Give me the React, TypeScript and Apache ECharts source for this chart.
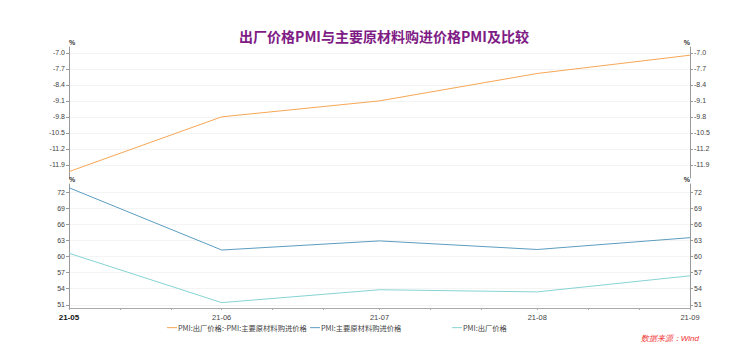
import React, { useEffect, useRef } from "react";
import * as echarts from "echarts";

const dates = ["2021-05-31", "2021-06-30", "2021-07-31", "2021-08-31", "2021-09-30"];
const diffValues = [-12.2, -9.8, -9.1, -7.9, -7.1];
const purchaseValues = [72.8, 61.2, 62.9, 61.3, 63.5];
const factoryValues = [60.6, 51.4, 53.8, 53.4, 56.4];
const topTicks = [-11.9, -11.2, -10.5, -9.8, -9.1, -8.4, -7.7, -7.0];
const bottomTicks = [51, 54, 57, 60, 63, 66, 69, 72];
const minorDays = ["2021-06-10", "2021-06-20", "2021-07-10", "2021-07-20", "2021-08-10", "2021-08-20", "2021-09-10", "2021-09-20"];
const seriesNames = ["PMI:出厂价格:-PMI:主要原材料购进价格", "PMI:主要原材料购进价格", "PMI:出厂价格"];

const ts = (d: string) => {
  const [y, m, day] = d.split("-").map(Number);
  return Date.UTC(y, m - 1, day);
};
const fmt = (v: number) => {
  const d = new Date(v);
  const yy = String(d.getUTCFullYear()).slice(2);
  const mm = String(d.getUTCMonth() + 1).padStart(2, "0");
  return yy + "-" + mm;
};

export default function App() {
  const ref = useRef<HTMLDivElement>(null);
  useEffect(() => {
    const chart = echarts.init(ref.current!, null, { renderer: "svg" });
    const xs = dates.map(ts);
    const xTickVals = [...xs, ...minorDays.map(ts)].sort((a, b) => a - b);
    const font = "Microsoft YaHei, Noto Sans CJK SC, sans-serif";
    const yCommon = (idx: number, pos: "left" | "right", ticks: number[], min: number, max: number, dec: number) => ({
      type: "value" as const,
      gridIndex: idx,
      position: pos,
      min,
      max,
      name: "%",
      nameLocation: "end" as const,
      nameGap: 1,
      nameTextStyle: { fontSize: 7, color: "#333", fontWeight: "bold" as const, align: pos === "left" ? "left" : "right" },
      axisLine: { show: true, lineStyle: { color: "#999", width: 1 } },
      axisTick: { show: true, length: 3, customValues: ticks, lineStyle: { color: "#999" } },
      axisLabel: {
        customValues: ticks,
        fontSize: 7,
        color: "#444",
        margin: 4,
        fontFamily: "Arial, sans-serif",
        formatter: (v: number) => v.toFixed(dec),
      },
      splitLine: { show: pos === "left", lineStyle: { color: "#f4f4f4", width: 1 } },
    });
    chart.setOption({
      animation: false,
      backgroundColor: "#fff",
      title: {
        text: "出厂价格PMI与主要原材料购进价格PMI及比较",
        left: 379,
        textAlign: "center",
        top: 24,
        textStyle: { fontSize: 14, fontWeight: "bold", color: "#7E1B84", fontFamily: font },
      },
      grid: [
        { left: 69, right: 47, top: 47, height: 131 },
        { left: 69, right: 47, top: 184, height: 124 },
      ],
      legend: seriesNames.map((n, i) => ({
        data: [n],
        left: [167, 310, 452][i],
        top: 324,
        padding: 0,
        itemWidth: 10,
        itemHeight: 8,
        itemGap: 0,
        icon: "path://M0,4L10,4L10,5L0,5Z",
        textStyle: { fontSize: 7.3, color: "#444", fontFamily: font, padding: [0, 0, 0, -4] },
      })),
      xAxis: [
        {
          type: "value",
          gridIndex: 0,
          min: xs[0],
          max: xs[xs.length - 1],
          show: false,
        },
        {
          type: "value",
          gridIndex: 1,
          min: xs[0],
          max: xs[xs.length - 1],
          axisLine: { show: true, lineStyle: { color: "#aaa" } },
          axisTick: { show: true, length: 2, customValues: xTickVals, lineStyle: { color: "#aaa" } },
          splitLine: { show: false },
          axisLabel: {
            customValues: xs,
            fontSize: 7.5,
            color: "#444",
            margin: 5,
            fontFamily: "Arial, sans-serif",
            formatter: (v: number) => (v === xs[0] ? "{b|" + fmt(v) + "}" : fmt(v)),
            rich: { b: { fontWeight: "bold", color: "#111", fontSize: 8, fontFamily: "Arial, sans-serif" } },
          },
        },
      ],
      yAxis: [
        yCommon(0, "left", topTicks, -12.48, -6.74, 1),
        yCommon(0, "right", topTicks, -12.48, -6.74, 1),
        yCommon(1, "left", bottomTicks, 50.4, 73.5, 0),
        yCommon(1, "right", bottomTicks, 50.4, 73.5, 0),
      ],
      series: [
        {
          name: seriesNames[0],
          type: "line",
          xAxisIndex: 0,
          yAxisIndex: 0,
          data: xs.map((x, i) => [x, diffValues[i]]),
          symbol: "none",
          lineStyle: { color: "#F7A656", width: 1 },
          itemStyle: { color: "#F7A656" },
        },
        {
          name: seriesNames[1],
          type: "line",
          xAxisIndex: 1,
          yAxisIndex: 2,
          data: xs.map((x, i) => [x, purchaseValues[i]]),
          symbol: "none",
          lineStyle: { color: "#5B9DC0", width: 1 },
          itemStyle: { color: "#5B9DC0" },
        },
        {
          name: seriesNames[2],
          type: "line",
          xAxisIndex: 1,
          yAxisIndex: 2,
          data: xs.map((x, i) => [x, factoryValues[i]]),
          symbol: "none",
          lineStyle: { color: "#86D3D3", width: 1 },
          itemStyle: { color: "#86D3D3" },
        },
      ],
      graphic: [
        {
          type: "text",
          right: 38,
          top: 334,
          style: { text: "数据来源：Wind", fontSize: 8, fontStyle: "italic", fill: "#F03030", font: "italic 8px " + font },
        },
      ],
    });
    return () => chart.dispose();
  }, []);
  return <div ref={ref} style={{ width: 737, height: 357, margin: -8 }} />;
}
